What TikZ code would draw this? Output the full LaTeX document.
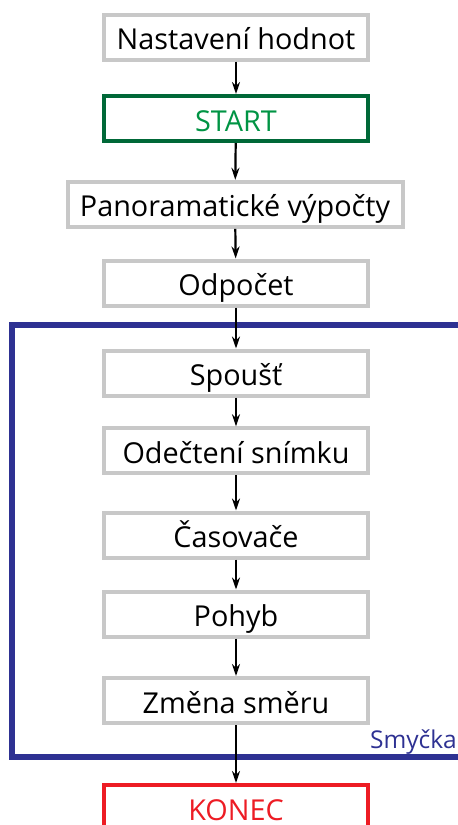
\documentclass[tikz,border=0pt]{standalone}
\usepackage{fontspec}
\setmainfont{Open Sans}
\usetikzlibrary{arrows.meta}
\definecolor{boxgray}{RGB}{200,200,200}
\definecolor{startgreen}{RGB}{0,104,56}
\definecolor{starttext}{RGB}{0,148,68}
\definecolor{loopblue}{RGB}{46,49,146}
\definecolor{endred}{RGB}{237,28,36}
\tikzset{
  stepbox/.style={draw=boxgray, line width=4pt, fill=white, minimum width=264pt,
    minimum height=45pt, inner sep=0pt, text height=25pt, text depth=0pt,
    font=\fontsize{28.8}{33}\selectfont},
  flow/.style={-{Stealth[length=12pt,width=8pt]}, line width=2.2pt, black},
}
\begin{document}
\begin{tikzpicture}[x=1pt,y=-1pt]
  \useasboundingbox (0,0) rectangle (458,825);
  \begin{scope}
    \clip (0,0) rectangle (458,825);
    % loop frame, running past the right edge
    \draw[loopblue, line width=5.5pt] (470,325) -- (12,325) -- (12,757) -- (470,757);
    \node[anchor=base east, text=loopblue, inner sep=0pt, font=\fontsize{24.5}{28}\selectfont] (loop) at (457,748) {Smyčka};

    \node[stepbox] (set) at (236,37) {Nastavení hodnot};
    \node[stepbox, draw=startgreen, text=starttext] (start) at (236,118.5) {START};
    \node[stepbox, minimum width=335pt] (pano) at (235,204.3) {Panoramatické výpočty};
    \node[stepbox] (count) at (236,283) {Odpočet};
    \node[stepbox] (trig) at (236,373) {Spoušť};
    \node[stepbox] (frame) at (236,450.8) {Odečtení snímku};
    \node[stepbox] (timers) at (236,535) {Časovače};
    \node[stepbox] (move) at (236,614) {Pohyb};
    \node[stepbox] (turn) at (236,700.5) {Změna směru};
    \node[stepbox, draw=endred, text=endred, anchor=north] (end) at (236,783) {KONEC};

    \draw[flow] (set) -- (start);
    \draw[flow] (start) -- (pano);
    \draw[flow] (pano) -- (count);
    \draw[flow] (count) -- (trig);
    \draw[flow] (trig) -- (frame);
    \draw[flow] (frame) -- (timers);
    \draw[flow] (timers) -- (move);
    \draw[flow] (move) -- (turn);
    \draw[flow] (turn) -- (end);
  \end{scope}
\end{tikzpicture}
\end{document}
